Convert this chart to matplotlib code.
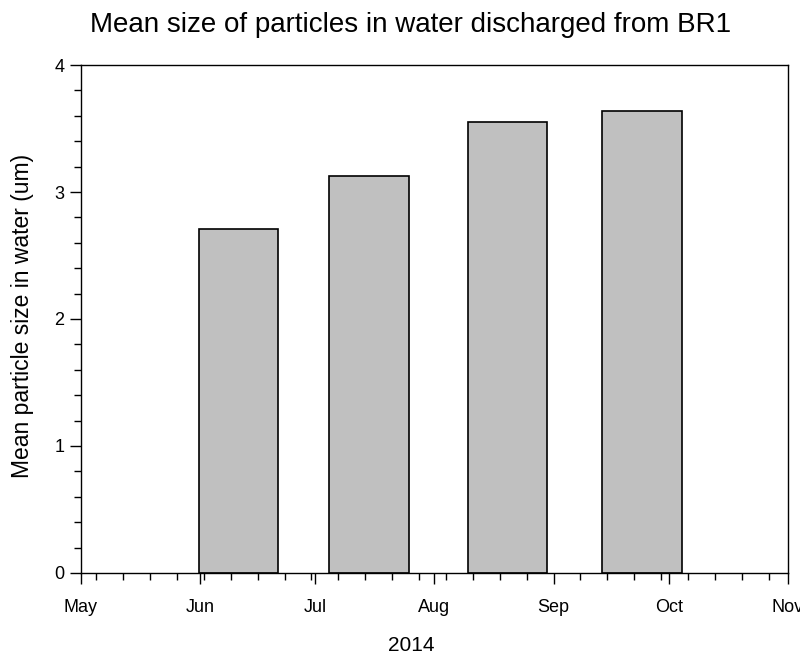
import datetime as dt
import matplotlib
matplotlib.use('Agg')
import matplotlib.pyplot as plt
import matplotlib.dates as mdates

# bar centres (sampling dates) and mean particle size
sample_dates = ['2014-06-11', '2014-07-15', '2014-08-20', '2014-09-24']
mean_size = [2.71, 3.13, 3.55, 3.64]

plt.rcParams['font.family'] = ['Liberation Sans', 'DejaVu Sans']


def main():
    dates = [dt.datetime.strptime(d, '%Y-%m-%d') for d in sample_dates]

    fig = plt.figure(figsize=(8, 6.57), dpi=100)
    ax = fig.add_axes([0.101, 0.128, 0.884, 0.773])

    ax.bar(dates, mean_size, width=20.6, align='center',
           color='#c0c0c0', edgecolor='black', linewidth=1.2, zorder=2)

    ax.set_xlim(dt.datetime(2014, 5, 1), dt.datetime(2014, 11, 1))
    ax.set_ylim(0, 4)

    ax.xaxis.set_major_locator(mdates.MonthLocator())
    ax.xaxis.set_major_formatter(mdates.DateFormatter('%b'))
    ax.xaxis.set_minor_locator(mdates.WeekdayLocator(byweekday=mdates.MO))
    ax.set_yticks([0, 1, 2, 3, 4])
    ax.set_yticks([i * 0.2 for i in range(21)], minor=True)

    ax.tick_params(axis='both', which='major', direction='out', length=8,
                   width=1, labelsize=13, pad=4)
    ax.tick_params(axis='both', which='minor', direction='out', length=5, width=1)
    ax.tick_params(axis='x', which='major', pad=11)

    for s in ax.spines.values():
        s.set_linewidth(1)

    fig.text(411 / 800, 1 - 25 / 657,
             'Mean size of particles in water discharged from BR1',
             fontsize=20, ha='center', va='center')
    ax.set_xlabel('2014', fontsize=15)
    ax.xaxis.set_label_coords(0.467, -0.124)
    ax.set_ylabel('Mean particle size in water (um)', fontsize=16.5)
    ax.yaxis.set_label_coords(-0.066, 0.505)

    fig.savefig('out.png', dpi=100)


if __name__ == '__main__':
    main()
